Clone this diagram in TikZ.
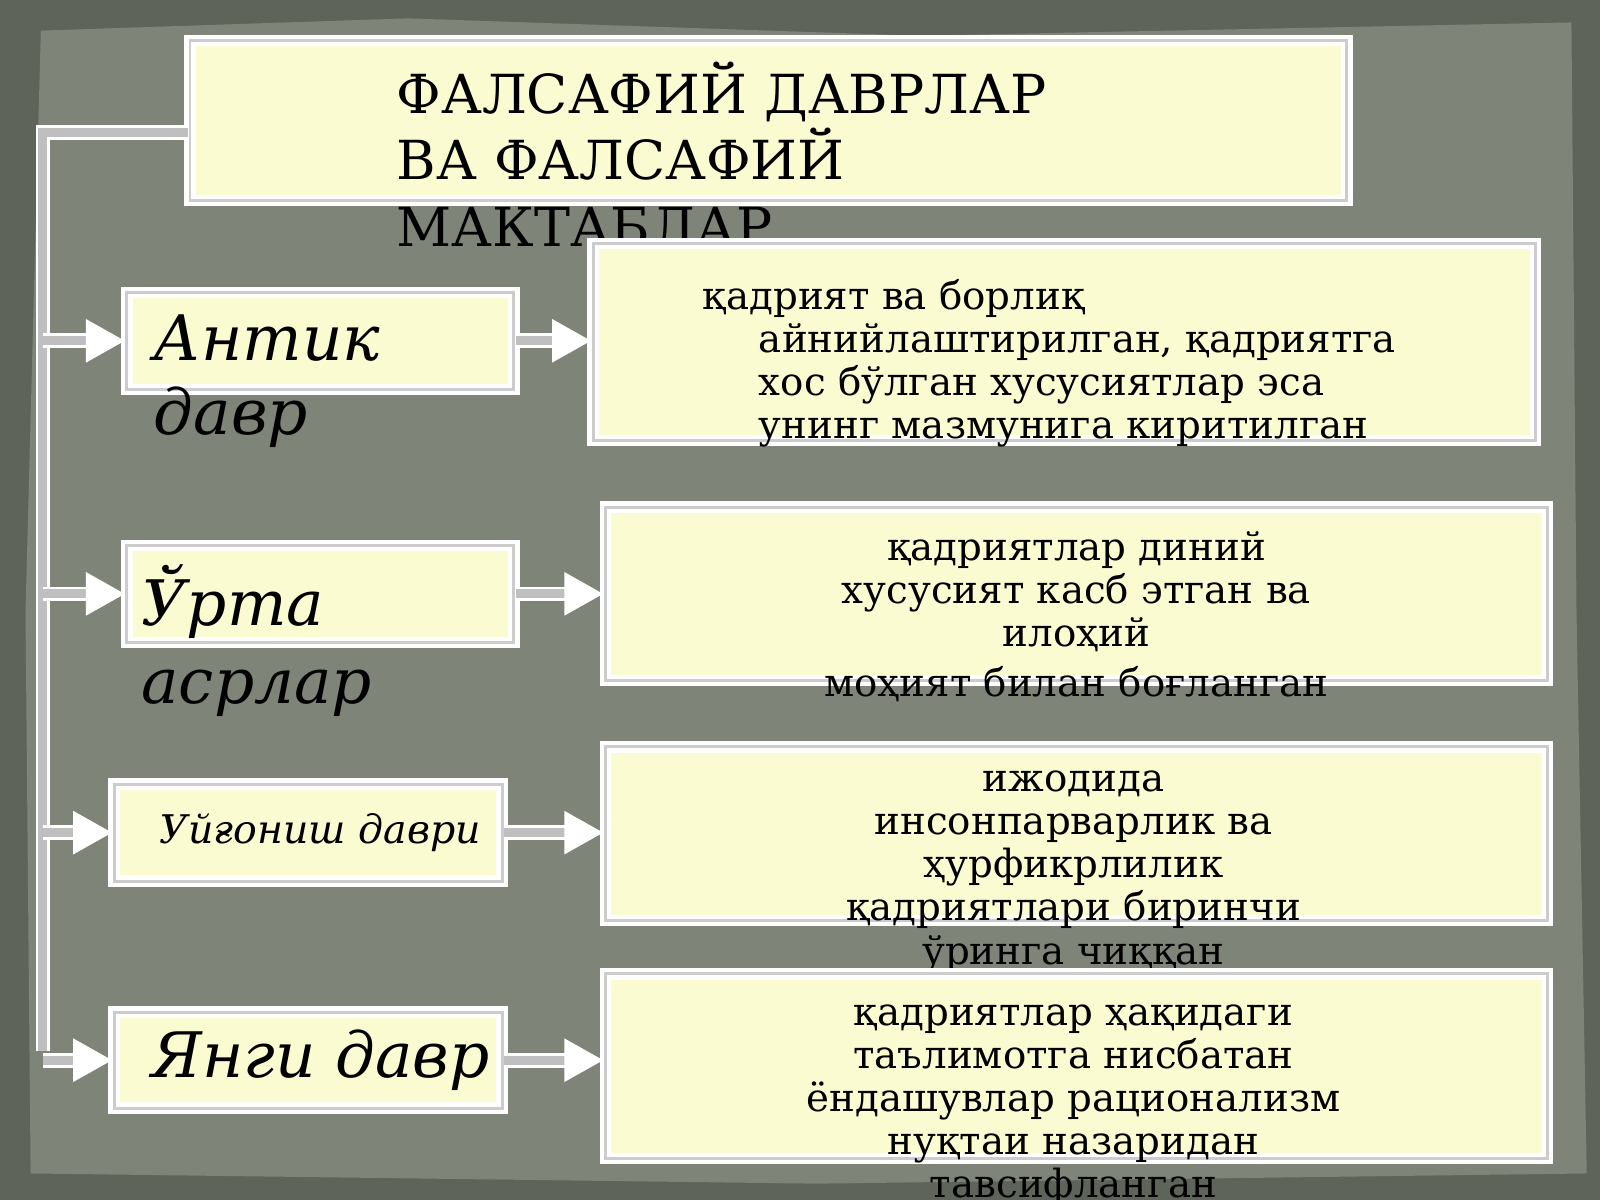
\documentclass[tikz,border=0pt]{standalone}
\usepackage{fontspec}
\setmainfont{DejaVu Serif}
\usetikzlibrary{arrows.meta}
\definecolor{bgdark}{HTML}{5E6459}
\definecolor{bgpaper}{HTML}{7F8479}
\definecolor{boxfill}{HTML}{FBFBD2}
\tikzset{
  box/.style={draw=white, line width=1.2pt, double=gray!40, double distance=0.8pt,
    fill=boxfill, inner sep=0pt},
  link/.style={draw=white, line width=0.8pt, double=gray!50, double distance=2.5pt},
  tip/.style={link, -{Triangle[length=0.38cm,width=0.42cm,fill=white]}},
  txt/.style={align=center, font=\fontsize{10.8}{12}\selectfont, inner sep=0pt}
}
\begin{document}
\begin{tikzpicture}[x=0.01cm,y=-0.01cm]
\useasboundingbox (0,0) rectangle (1568,1176);
% background
\fill[bgdark] (0,0) rectangle (1568,1176);
\fill[bgpaper] (40,30) -- (400,18) -- (900,35) -- (1540,22) -- (1545,600)
  -- (1555,1150) -- (800,1160) -- (30,1150) -- (25,600) -- cycle;

% title
\node[box, minimum width=11.33cm, minimum height=1.57cm] (title) at (753,118) {};
\node[anchor=north west, align=left, inner sep=0pt,
  font=\fontsize{15}{18.5}\selectfont] (titletxt) at (388,60)
  {ФАЛСАФИЙ ДАВРЛАР\\ ВА ФАЛСАФИЙ\\ МАКТАБЛАР};

% periods
\node[box, minimum width=3.79cm, minimum height=0.95cm] (antik) at (314,334) {};
\node[anchor=north west, align=left, inner sep=0pt,
  font=\itshape\fontsize{17.5}{20.5}\selectfont] at (150,308) {Антик\\давр};
\node[box, minimum width=3.79cm, minimum height=0.95cm] (urta) at (314,582) {};
\node[anchor=north west, align=left, inner sep=0pt,
  font=\itshape\fontsize{17.5}{21.5}\selectfont] at (138,553) {Ўрта\\асрлар};
\node[box, minimum width=3.80cm, minimum height=0.95cm] (uygonish) at (302,816) {};
\node[font=\itshape\fontsize{11}{13}\selectfont] at (314,816) {Уйғониш даври};
\node[box, minimum width=3.80cm, minimum height=0.94cm] (yangi) at (302,1039) {};
\node[font=\itshape\fontsize{17.5}{20}\selectfont] at (314,1039) {Янги давр};

% descriptions
\node[box, minimum width=9.23cm, minimum height=1.93cm] (d1) at (1043,335) {};
\node[anchor=north west, align=left, inner sep=0pt,
  font=\fontsize{10.8}{12}\selectfont] at (688,273)
  {қадрият ва борлиқ\\\hspace{0.55cm}айнийлаштирилган, қадриятга\\\hspace{0.55cm}хос бўлган хусусиятлар эса\\\hspace{0.55cm}унинг мазмунига киритилган};
\node[box, minimum width=9.23cm, minimum height=1.70cm] (d2) at (1055,582) {};
\node[txt, anchor=north] at (1055,520)
  {қадриятлар диний\\хусусият касб этган ва\\илоҳий\\[2pt]моҳият билан боғланган};
\node[box, minimum width=9.23cm, minimum height=1.70cm] (d3) at (1055,817) {};
\node[txt, anchor=north] at (1052,755)
  {ижодида\\инсонпарварлик ва\\ҳурфикрлилик\\қадриятлари биринчи\\ўринга чиққан};
\node[box, minimum width=9.23cm, minimum height=1.81cm] (d4) at (1055,1045) {};
\node[txt, anchor=north] at (1052,984)
  {қадриятлар ҳақидаги\\таълимотга нисбатан\\ёндашувлар рационализм\\нуқтаи назаридан\\тавсифланган};

% connectors
\coordinate (trunk) at (42,130);
\coordinate (bottom) at (42,1030);
\draw[link] (title.west |- trunk) -- (trunk) -- (bottom);
\foreach \n in {antik,urta,uygonish,yangi}
  \draw[tip] (42,0 |- \n.west) -- (\n.west);
\draw[tip] (antik.east) -- (d1.west |- antik);
\draw[tip] (urta.east) -- (d2.west |- urta);
\draw[tip] (uygonish.east) -- (d3.west |- uygonish);
\draw[tip] (yangi.east) -- (d4.west |- yangi);
\end{tikzpicture}
\end{document}
